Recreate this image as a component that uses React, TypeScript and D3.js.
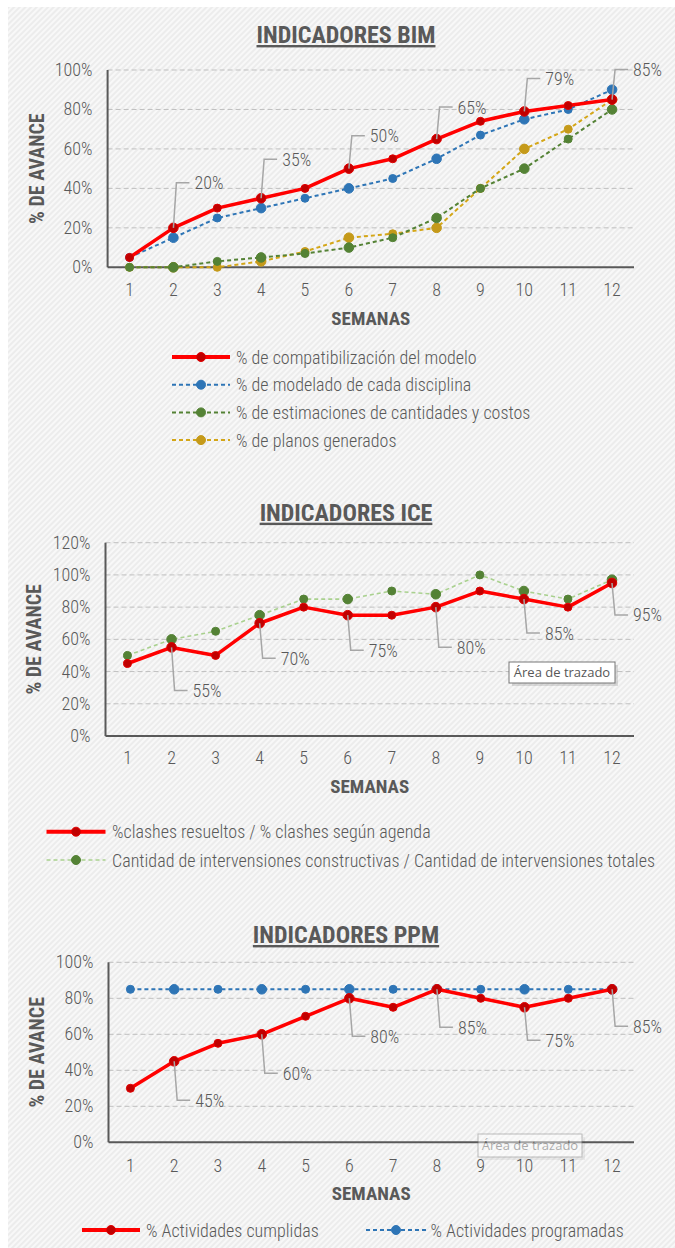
import React from "react";
import * as d3 from "d3";

// ---------- DATA ----------
const weeks = ["1", "2", "3", "4", "5", "6", "7", "8", "9", "10", "11", "12"];

const bimCompat = [5, 20, 30, 35, 40, 50, 55, 65, 74, 79, 82, 85];
const bimModelado = [5, 15, 25, 30, 35, 40, 45, 55, 67, 75, 80, 90];
const bimEstim = [0, 0, 3, 5, 7, 10, 15, 25, 40, 50, 65, 80];
const bimPlanos = [0, 0, 0, 3, 8, 15, 17, 20, 40, 60, 70, 85];

const iceClashes = [45, 55, 50, 70, 80, 75, 75, 80, 90, 85, 80, 95];
const iceInterv = [50, 60, 65, 75, 85, 85, 90, 88, 100, 90, 85, 97];

const ppmCumplidas = [30, 45, 55, 60, 70, 80, 75, 85, 80, 75, 80, 85];
const ppmProgramadas = [85, 85, 85, 85, 85, 85, 85, 85, 85, 85, 85, 85];

const bimTicks = [0, 20, 40, 60, 80, 100];
const iceTicks = [0, 20, 40, 60, 80, 100, 120];
const ppmTicks = [0, 20, 40, 60, 80, 100];

const labeledWeeks = ["2", "4", "6", "8", "10", "12"];

const bimLegend = [
  "% de compatibilización del modelo",
  "% de modelado de cada disciplina",
  "% de estimaciones de cantidades y costos",
  "% de planos generados",
];
const iceLegend = [
  "%clashes resueltos / % clashes según agenda",
  "Cantidad de intervensiones constructivas / Cantidad de intervensiones totales",
];
const ppmLegend = ["% Actividades cumplidas", "% Actividades programadas"];

// ---------- STYLE ----------
const FONT = "'Liberation Sans Narrow','Arial Narrow','Roboto Condensed','DejaVu Sans Condensed',sans-serif";
const GRAY = "#595959";

type Style = { stroke: string; width: number; dash?: string; marker: string; markerStroke?: string };
const RED: Style = { stroke: "#FF0000", width: 3.5, marker: "#C00000", markerStroke: "#E00000" };
const BLUE: Style = { stroke: "#2E75B6", width: 2, dash: "4,3", marker: "#2E75B6" };
const GREEN: Style = { stroke: "#548235", width: 2, dash: "4,3", marker: "#548235" };
const GOLD: Style = { stroke: "#D4A617", width: 2, dash: "4,3", marker: "#C59A1A" };
const LGREEN: Style = { stroke: "#A9D18E", width: 1.6, dash: "4,3", marker: "#548235" };

type Series = { values: number[]; style: Style; name: string };
type LegendItem = { name: string; style: Style; x0: number; x1: number; tx: number; y: number };

type Cfg = {
  title: string;
  titleY: number;
  left: number;
  right: number;
  top: number;
  bottom: number;
  ticks: number[];
  xTickY: number;
  semanasY: number;
  yTitleX: number;
  series: Series[];
  labelSeries: number[];
  labelOffsets: number[];
  legend: LegendItem[];
  tooltip?: { x: number; y: number; w: number; h: number; opacity: number };
};

function Marker({ cx, cy, r, s }: { cx: number; cy: number; r: number; s: Style }) {
  return <circle cx={cx} cy={cy} r={r} fill={s.marker} stroke={s.markerStroke || s.marker} strokeWidth={1} />;
}

function Panel({ cfg }: { cfg: Cfg }) {
  const x = d3.scalePoint<string>().domain(weeks).range([cfg.left, cfg.right]).padding(0.5);
  const yMax = cfg.ticks[cfg.ticks.length - 1];
  const y = d3.scaleLinear().domain([0, yMax]).range([cfg.bottom, cfg.top]);
  const line = d3
    .line<number>()
    .x((_, i) => x(weeks[i]) as number)
    .y((d) => y(d));
  const cx = (cfg.left + cfg.right) / 2;
  return (
    <g>
      <text
        x={346}
        y={cfg.titleY}
        textAnchor="middle"
        fontFamily={FONT}
        fontWeight="bold"
        fontSize={24}
        fill={GRAY}
        style={{ textDecoration: "underline" }}
      >
        {cfg.title}
      </text>
      {cfg.ticks.map((t) => (
        <g key={t}>
          {t > 0 && (
            <line x1={cfg.left} x2={cfg.right} y1={y(t)} y2={y(t)} stroke="#BFBFBF" strokeWidth={1} strokeDasharray="5,3" />
          )}
          <text x={cfg.left - 15} y={y(t) + 6} textAnchor="end" fontFamily={FONT} fontWeight={300} fontSize={18} fill={GRAY}>
            {t}%
          </text>
        </g>
      ))}
      <line x1={cfg.left} x2={cfg.left} y1={cfg.top} y2={cfg.bottom} stroke={GRAY} strokeWidth={2} />
      <line x1={cfg.left} x2={cfg.right} y1={cfg.bottom} y2={cfg.bottom} stroke={GRAY} strokeWidth={2} />
      {weeks.map((w) => (
        <text key={w} x={x(w)} y={cfg.xTickY} textAnchor="middle" fontFamily={FONT} fontWeight={300} fontSize={18} fill={GRAY}>
          {w}
        </text>
      ))}
      <text x={cx} y={cfg.semanasY} textAnchor="middle" fontFamily={FONT} fontWeight="bold" fontSize={19} fill={GRAY}>
        SEMANAS
      </text>
      <text
        transform={`translate(${cfg.yTitleX},${(cfg.top + cfg.bottom) / 2}) rotate(-90)`}
        textAnchor="middle"
        dominantBaseline="central"
        fontFamily={FONT}
        fontWeight="bold"
        fontSize={20}
        fill={GRAY}
      >
        % DE AVANCE
      </text>
      {/* series: draw in reverse so first series sits on top */}
      {cfg.series
        .map((s, si) => ({ s, si }))
        .reverse()
        .map(({ s, si }) => (
          <g key={si}>
            <path d={line(s.values) || ""} fill="none" stroke={s.style.stroke} strokeWidth={s.style.width} strokeDasharray={s.style.dash} strokeLinejoin="round" />
            {s.values.map((v, i) => (
              <Marker key={i} cx={x(weeks[i]) as number} cy={y(v)} r={i % 2 === 1 ? 4.8 : 4} s={s.style} />
            ))}
          </g>
        ))}
      {/* data labels with leader lines */}
      {labeledWeeks.map((w, k) => {
        const si = cfg.labelSeries[0];
        const i = weeks.indexOf(w);
        const v = cfg.series[si].values[i];
        const px = x(w) as number;
        const py = y(v);
        const ly = py + cfg.labelOffsets[k];
        return (
          <g key={w}>
            <polyline points={`${px},${py} ${px + 3},${ly} ${px + 16},${ly}`} fill="none" stroke="#A6A6A6" strokeWidth={1.5} />
            <text x={px + 21} y={ly + 6.5} fontFamily={FONT} fontWeight={300} fontSize={18} fill={GRAY}>
              {Math.round(v)}%
            </text>
          </g>
        );
      })}
      {cfg.tooltip && (
        <g opacity={cfg.tooltip.opacity}>
          <rect x={cfg.tooltip.x + 3} y={cfg.tooltip.y + 3} width={cfg.tooltip.w} height={cfg.tooltip.h} fill="#000" opacity={0.12} />
          <rect x={cfg.tooltip.x} y={cfg.tooltip.y} width={cfg.tooltip.w} height={cfg.tooltip.h} fill="#FFFFFF" stroke="#767676" strokeWidth={1} />
          <text
            x={cfg.tooltip.x + cfg.tooltip.w / 2}
            y={cfg.tooltip.y + cfg.tooltip.h / 2 + 4.5}
            textAnchor="middle"
            fontFamily="'Open Sans','Noto Sans',sans-serif"
            fontSize={13}
            fill="#575757"
          >
            Área de trazado
          </text>
        </g>
      )}
      {cfg.legend.map((l, i) => (
        <g key={i}>
          <line x1={l.x0} x2={l.x1} y1={l.y} y2={l.y} stroke={l.style.stroke} strokeWidth={l.style.width === 3.5 ? 4 : l.style.width} strokeDasharray={l.style.dash} />
          <Marker cx={(l.x0 + l.x1) / 2} cy={l.y} r={4.5} s={l.style} />
          <text x={l.tx} y={l.y + 6.5} fontFamily={FONT} fontWeight={300} fontSize={18} fill={GRAY}>
            {l.name}
          </text>
        </g>
      ))}
    </g>
  );
}

const bimStyles = [RED, BLUE, GREEN, GOLD];
const bimCfg: Cfg = {
  title: "INDICADORES BIM",
  titleY: 43,
  left: 107.6,
  right: 634,
  top: 70,
  bottom: 267.3,
  ticks: bimTicks,
  xTickY: 296,
  semanasY: 325,
  yTitleX: 37,
  series: [bimCompat, bimModelado, bimEstim, bimPlanos].map((v, i) => ({ values: v, style: bimStyles[i], name: bimLegend[i] })),
  labelSeries: [0],
  labelOffsets: [-45, -39, -33, -32, -33, -30],
  legend: bimLegend.map((n, i) => ({ name: n, style: bimStyles[i], x0: 172, x1: 230, tx: 236, y: 357 + i * 27.7 })),
};

const iceStyles = [RED, LGREEN];
const iceCfg: Cfg = {
  title: "INDICADORES ICE",
  titleY: 520.7,
  left: 105.5,
  right: 634,
  top: 542.7,
  bottom: 736,
  ticks: iceTicks,
  xTickY: 764,
  semanasY: 793,
  yTitleX: 34,
  series: [iceClashes, iceInterv].map((v, i) => ({ values: v, style: iceStyles[i], name: iceLegend[i] })),
  labelSeries: [0],
  labelOffsets: [43, 35, 35, 40, 34, 32],
  legend: iceLegend.map((n, i) => ({ name: n, style: iceStyles[i], x0: 46.5, x1: 105.5, tx: 112, y: 831.7 + i * 28.3 })),
  tooltip: { x: 509, y: 662, w: 106, h: 21, opacity: 1 },
};

const ppmStyles = [RED, BLUE];
const ppmLegendPos = [
  { x0: 82, x1: 140, tx: 146 },
  { x0: 366, x1: 426, tx: 430.5 },
];
const ppmCfg: Cfg = {
  title: "INDICADORES PPM",
  titleY: 943,
  left: 108.5,
  right: 634,
  top: 962.3,
  bottom: 1142.3,
  ticks: ppmTicks,
  xTickY: 1171.7,
  semanasY: 1200,
  yTitleX: 37,
  series: [ppmCumplidas, ppmProgramadas].map((v, i) => ({ values: v, style: ppmStyles[i], name: ppmLegend[i] })),
  labelSeries: [0],
  labelOffsets: [39, 39, 38, 38, 33, 37],
  legend: ppmLegend.map((n, i) => ({ name: n, style: ppmStyles[i], ...ppmLegendPos[i], y: 1230 })),
  tooltip: { x: 478, y: 1134, w: 104, h: 23, opacity: 0.45 },
};

export default function App() {
  return (
    <svg
      width={675}
      height={1248}
      style={{ position: "absolute", left: 0, top: 0, display: "block" }}
      xmlns="http://www.w3.org/2000/svg"
    >
      <defs>
        <pattern id="hatch" width={4} height={4} patternUnits="userSpaceOnUse" patternTransform="rotate(45)">
          <rect width={4} height={4} fill="#ECECEC" />
          <line x1={1} y1={0} x2={1} y2={4} stroke="#F8F8F8" strokeWidth={2} />
        </pattern>
      </defs>
      <rect x={0} y={0} width={675} height={1248} fill="#FFFFFF" />
      <rect x={8} y={7} width={667} height={1241} fill="url(#hatch)" />
      <Panel cfg={bimCfg} />
      <Panel cfg={iceCfg} />
      <Panel cfg={ppmCfg} />
    </svg>
  );
}
